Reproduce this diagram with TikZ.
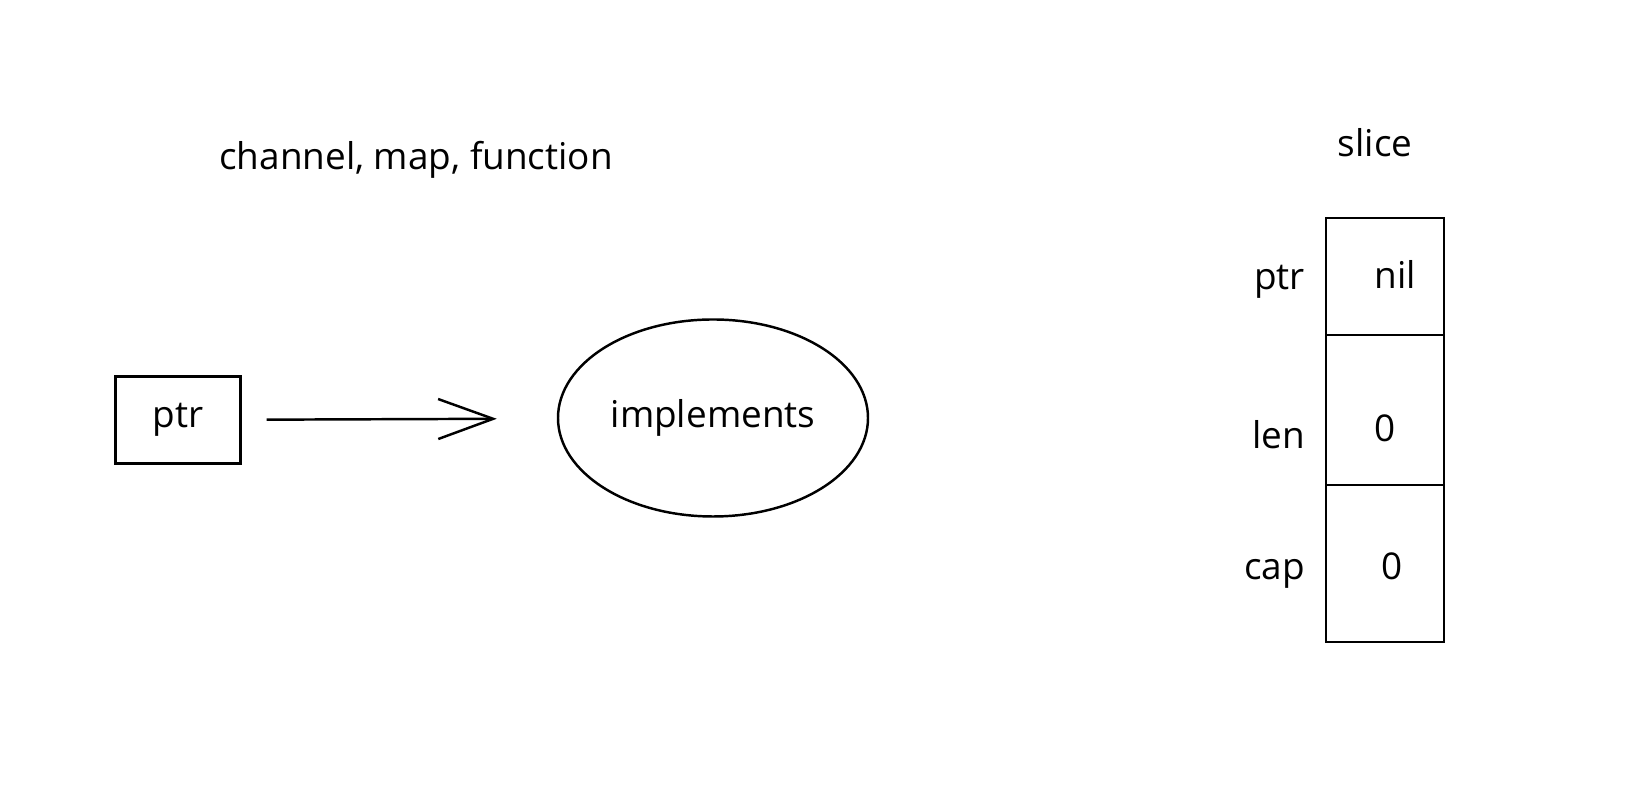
\documentclass[tikz,border=0pt]{standalone}
\usepackage{fontspec}
\setmainfont{Open Sans}
\usetikzlibrary{arrows.meta,positioning,shapes.geometric}

\begin{document}
\begin{tikzpicture}[
	every node/.style={font=\fontsize{21}{25}\selectfont},
	sketch/.style={draw,line width=1.4pt},
	cell/.style={sketch,minimum width=2.36cm,inner sep=0pt,outer sep=0pt}
]
	\useasboundingbox (0,0) rectangle (32.76,16.2);

	%Heading
	\node (title) at (8.32,13.0) {channel, map, function};

	%Pointer box
	\node[sketch,minimum width=2.5cm,minimum height=1.74cm] (ptrbox) at (3.56,7.8) {ptr};
	%What it points to
	\node[sketch,ellipse,minimum width=6.2cm,minimum height=3.94cm,inner sep=0pt] (impl) at (14.26,7.84) {implements};

	\draw[sketch,-{Straight Barb[length=11mm,width=8mm]},shorten <=0.5cm,shorten >=1.2cm] (ptrbox) -- (impl);

	%Slice header
	\node (slice) at (27.5,13.34) {slice};
	\node[cell,minimum height=2.34cm] (cptr) at (27.7,10.67) {};
	\node[cell,minimum height=3.0cm,below=0pt of cptr] (clen) {};
	\node[cell,minimum height=3.14cm,below=0pt of clen] (ccap) {};

	\foreach \cellName/\fieldName/\value/\xShift/\yShift/\lShift in {cptr/ptr/nil/0.2cm/0.05cm/-0.1cm, clen/len/0/0cm/-0.36cm/-0.5cm, ccap/cap/0/0.15cm/-0.06cm/-0.2cm}{
		\node (val\cellName) at ([xshift=\xShift,yshift=\yShift]\cellName.center) {\value};
		\node[left=0.3cm of \cellName,yshift=\lShift] (lbl\cellName) {\fieldName};
	}

\end{tikzpicture}
\end{document}
